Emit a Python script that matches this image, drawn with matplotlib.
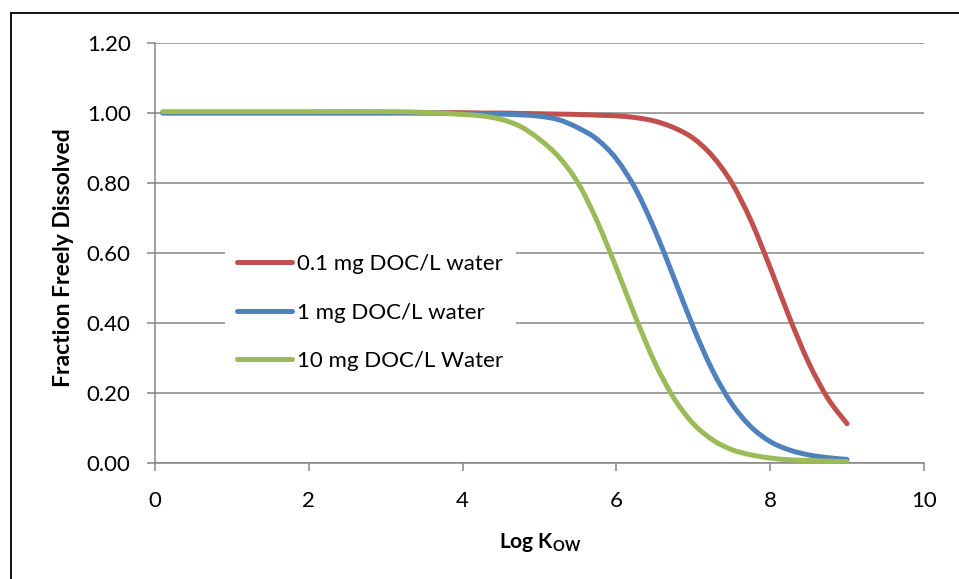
import matplotlib
matplotlib.use("Agg")
import matplotlib.pyplot as plt
from matplotlib.lines import Line2D
from matplotlib.path import Path
from matplotlib.patches import PathPatch

plt.rcParams['font.family'] = ['Lato', 'DejaVu Sans']
plt.rcParams['mathtext.fontset'] = 'custom'
plt.rcParams['mathtext.rm'] = 'Lato'
plt.rcParams['mathtext.bf'] = 'Lato:bold'

# ---- data ----
log_kow = [0.1, 1.0, 2.0, 3.0, 3.5, 4.0, 4.25, 4.5, 4.75, 5.0, 5.25, 5.5, 5.75,
           6.0, 6.25, 6.5, 6.75, 7.0, 7.25, 7.5, 7.75, 8.0, 8.25, 8.5, 8.75, 9.0]

doc_01 = [1.000, 1.000, 1.000, 1.000, 1.000, 1.000, 0.999, 0.999, 0.998, 0.997, 0.996, 0.995, 0.993,
          0.991, 0.986, 0.976, 0.957, 0.927, 0.876, 0.800, 0.692, 0.558, 0.416, 0.287, 0.185, 0.113]

doc_1 = [0.999, 0.999, 0.999, 0.999, 0.999, 0.998, 0.997, 0.996, 0.994, 0.990, 0.980, 0.957, 0.924,
         0.868, 0.782, 0.665, 0.528, 0.388, 0.265, 0.170, 0.104, 0.062, 0.038, 0.024, 0.016, 0.011]

doc_10 = [1.003, 1.003, 1.003, 1.003, 1.001, 0.995, 0.991, 0.981, 0.961, 0.924, 0.874, 0.800, 0.690,
          0.557, 0.416, 0.287, 0.185, 0.113, 0.067, 0.039, 0.024, 0.015, 0.010, 0.008, 0.006, 0.005]

series_labels = ["0.1 mg DOC/L water", "1 mg DOC/L water", "10 mg DOC/L Water"]
series_colors = ["#C0504D", "#4F81BD", "#9BBB59"]

x_ticks = [0, 2, 4, 6, 8, 10]
y_ticks = [0.0, 0.2, 0.4, 0.6, 0.8, 1.0, 1.2]
x_title = r"Log $\mathbf{K}_{\mathbf{OW}}$"
y_title = "Fraction Freely Dissolved"


def smooth_path(xs, ys):
    """Excel-style 'smoothed line': cubic Bezier segments through the data points."""
    pts = list(zip(xs, ys))
    n = len(pts)
    verts = [pts[0]]
    codes = [Path.MOVETO]
    for i in range(n - 1):
        p0 = pts[i - 1] if i > 0 else pts[i]
        p1 = pts[i]
        p2 = pts[i + 1]
        p3 = pts[i + 2] if i + 2 < n else pts[i + 1]
        c1 = (p1[0] + (p2[0] - p0[0]) / 6, p1[1] + (p2[1] - p0[1]) / 6)
        c2 = (p2[0] - (p3[0] - p1[0]) / 6, p2[1] - (p3[1] - p1[1]) / 6)
        verts += [c1, c2, p2]
        codes += [Path.CURVE4] * 3
    return Path(verts, codes)


W, H = 959, 579
fig = plt.figure(figsize=(W / 100, H / 100), dpi=100)
fig.patch.set_facecolor("white")

l, r, t, b = 155, 924, 42.6, 463.3
ax = fig.add_axes([l / W, 1 - b / H, (r - l) / W, (b - t) / H])

grid_color = "#868686"
LW = 3.6
handles = []
for vals, lab, col in zip([doc_01, doc_1, doc_10], series_labels, series_colors):
    patch = PathPatch(smooth_path(log_kow, vals), facecolor="none", edgecolor=col,
                      lw=LW, capstyle="round", joinstyle="round", zorder=3)
    ax.add_patch(patch)
    handles.append(Line2D([], [], color=col, lw=LW, solid_capstyle="round", label=lab))

ax.set_xlim(0, 10)
ax.set_ylim(0, 1.2)
ax.set_xticks(x_ticks)
ax.set_yticks(y_ticks)
ax.set_xticklabels([str(v) for v in x_ticks])
ax.set_yticklabels([f"{v:.2f}" for v in y_ticks])
ax.yaxis.grid(True, color=grid_color, lw=1.1)
ax.set_axisbelow(True)

for s in ["top", "right"]:
    ax.spines[s].set_visible(False)
for s in ["left", "bottom"]:
    ax.spines[s].set_color(grid_color)
    ax.spines[s].set_linewidth(1.1)

ax.tick_params(axis="both", colors=grid_color, length=5.5, width=1.1, direction="out",
               labelcolor="black", labelsize=16)
ax.tick_params(axis="x", pad=14.5)
ax.tick_params(axis="y", pad=12)

# axis titles
fig.text(540 / W, 1 - 543 / H, x_title, ha="center", va="center",
         fontsize=15, fontweight="bold")
fig.text(63 / W, 1 - 258 / H, y_title, ha="center", va="center",
         fontsize=16.5, fontweight="bold", rotation=90)

# legend: white box, no frame
leg = ax.legend(handles=handles, loc="upper left", bbox_to_anchor=(225 / W, 1 - 242 / H),
                bbox_transform=fig.transFigure, borderaxespad=0,
                frameon=True, fancybox=False, framealpha=1, edgecolor="none",
                facecolor="white", fontsize=16, handlelength=2.45,
                handletextpad=0.25, labelspacing=1.28, borderpad=0.55)

# outer chart frame (left and top edges visible)
fig.add_artist(Line2D([11 / W, 11 / W], [0, 1 - 13 / H], color="black", lw=1.3,
                      transform=fig.transFigure))
fig.add_artist(Line2D([11 / W, 1], [1 - 13 / H, 1 - 13 / H], color="black", lw=1.3,
                      transform=fig.transFigure))

fig.savefig("out.png", dpi=100, facecolor="white")
